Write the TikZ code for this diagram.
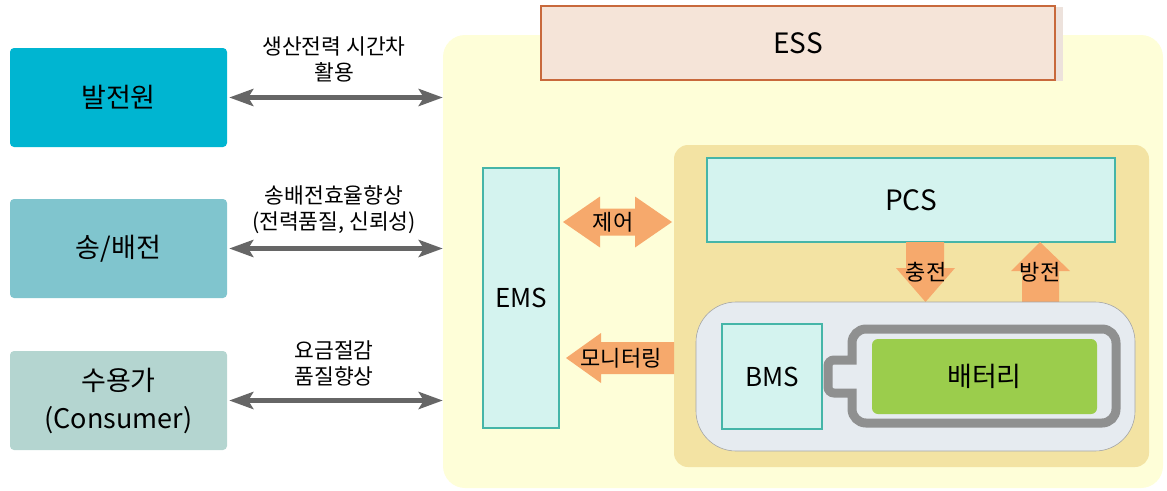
\documentclass[tikz,border=0pt]{standalone}
\usepackage{fontspec}
\setmainfont{Noto Sans CJK KR}
\usetikzlibrary{arrows.meta,positioning,calc,shadows}
\definecolor{gen}{HTML}{00B5D1}
\definecolor{grid}{HTML}{80C5CE}
\definecolor{cons}{HTML}{B4D5D0}
\definecolor{essbg}{HTML}{FEFED8}
\definecolor{essfill}{HTML}{F5E4D8}
\definecolor{essline}{HTML}{C8693C}
\definecolor{essshade}{HTML}{EDE2DC}
\definecolor{tanbg}{HTML}{F3E3A3}
\definecolor{mint}{HTML}{D4F3EF}
\definecolor{tealln}{HTML}{45B5A8}
\definecolor{orng}{HTML}{F6A96C}
\definecolor{packbg}{HTML}{E6EBF0}
\definecolor{batln}{HTML}{8F9090}
\definecolor{batgr}{HTML}{9BCD4C}
\definecolor{garr}{HTML}{666666}
\tikzset{
  src/.style={rounded corners=4pt,minimum width=217pt,minimum height=99pt,inner sep=0pt,align=center,font=\fontsize{27}{38}\selectfont},
  mintbox/.style={draw=tealln,line width=1.2pt,fill=mint,inner sep=0pt,font=\fontsize{26}{30}\selectfont},
  garrow/.style={draw=garr,line width=5pt,{Stealth[length=24pt,width=17pt,inset=5pt]}-{Stealth[length=24pt,width=17pt,inset=5pt]}},
  lbl/.style={align=center,inner sep=0pt,font=\fontsize{21.5}{26}\selectfont},
  blk/.style={fill=orng},
  alb/.style={inner sep=0pt,font=\fontsize{22}{24}\selectfont},
}
\begin{document}
\begin{tikzpicture}[x=1pt,y=-1pt]
\useasboundingbox (0,0) rectangle (1167,490);

% sources on the left
\node[src,fill=gen]  (gen)  at (118.5,97.5)  {발전원};
\node[src,fill=grid] (grid) at (118.5,248.5) {송/배전};
\node[src,fill=cons] (cons) at (118.5,400.5) {수용가\\(Consumer)};

% ESS area
\node[fill=essbg,rounded corners=22pt,minimum width=720pt,minimum height=453pt,inner sep=0pt] (essarea) at (803,261.5) {};
\node[draw=essline,line width=1.4pt,fill=essfill,minimum width=514pt,minimum height=74pt,inner sep=0pt,
  drop shadow={shadow xshift=8pt,shadow yshift=-1pt,fill=essshade,opacity=1},
  font=\fontsize{28}{30}\selectfont] (ess) at (798,43) {ESS};

\draw[garrow] ([xshift=2pt]gen.east) -- (gen.east -| essarea.west);
\draw[garrow] ([xshift=2pt]grid.east) -- (grid.east -| essarea.west);
\draw[garrow] ([xshift=2pt]cons.east) -- (cons.east -| essarea.west);
\node[lbl] (lgen)  at (334,59)  {생산전력 시간차\\활용};
\node[lbl] (lgrid) at (334,210) {송배전효율향상\\(전력품질, 신뢰성)};
\node[lbl] (lcons) at (334,363) {요금절감\\품질향상};

% inner part
\node[fill=tanbg,rounded corners=14pt,minimum width=475pt,minimum height=322pt,inner sep=0pt] (tan) at (911.5,306) {};
\node[mintbox,minimum width=76pt,minimum height=260pt] (ems) at (521,298) {EMS};
\node[mintbox,minimum width=408pt,minimum height=84pt,font=\fontsize{28}{30}\selectfont] (pcs) at (911,200) {PCS};

% block arrows
\fill[blk] (563,222) -- (600,196.5) -- (600,208.5) -- (635,208.5) -- (635,196.5) -- (672,222)
  -- (635,247.5) -- (635,235.5) -- (600,235.5) -- (600,247.5) -- cycle;
\fill[blk] (566,358) -- (601,333) -- (601,342) -- (674,342) -- (674,374) -- (601,374) -- (601,383) -- cycle;
\fill[blk] (906,242) -- (944,242) -- (944,268) -- (955,268) -- (925.5,302) -- (896,268) -- (906,268) -- cycle;
\fill[blk] (1022,302) -- (1059,302) -- (1059,271) -- (1070,271) -- (1040,242) -- (1011,271) -- (1022,271) -- cycle;
\node[alb] (ctl) at (613,222) {제어};
\node[alb] (mon) at (621,358) {모니터링};
\node[alb] (chg) at (926,272) {충전};
\node[alb] (dis) at (1040,272) {방전};

% battery pack
\node[draw=batln!80,line width=0.6pt,fill=packbg,rounded corners=40pt,minimum width=439pt,minimum height=149pt,inner sep=0pt] (pack) at (915.5,376.5) {};
\node[mintbox,minimum width=100pt,minimum height=105pt] (bms) at (772,376.5) {BMS};
\draw[batln,line width=9pt,fill=packbg] (852,360) [rounded corners=14pt] -- (852,329) -- (1116,329) -- (1116,423)
  -- (852,423) [sharp corners] -- (852,393) [rounded corners=6pt] -- (828,393) -- (828,360) [sharp corners] -- cycle;
\node[fill=batgr,rounded corners=6pt,minimum width=225pt,minimum height=75pt,inner sep=0pt,font=\fontsize{27}{30}\selectfont] (batt) at (984.5,376.5) {배터리};
\end{tikzpicture}
\end{document}
